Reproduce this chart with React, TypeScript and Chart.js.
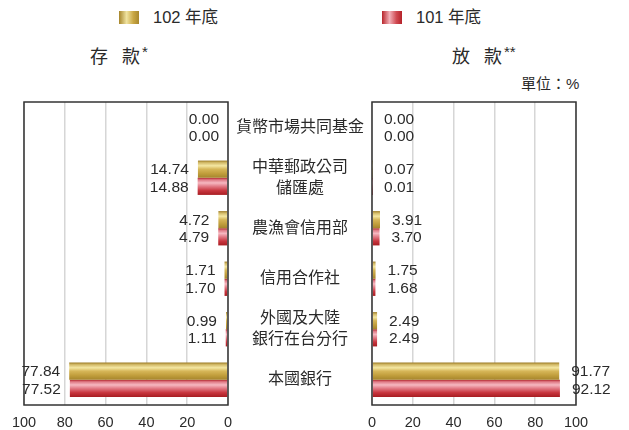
import React, { useEffect, useRef } from "react";
import { Chart, registerables } from "chart.js";

Chart.register(...registerables);

// Institutions shown in the middle column
const categories: (string | string[])[] = [
  "貨幣市場共同基金",
  ["中華郵政公司", "儲匯處"],
  "農漁會信用部",
  "信用合作社",
  ["外國及大陸", "銀行在台分行"],
  "本國銀行",
];

const yearLabels = ["102 年底", "101 年底"];

// Market shares of deposits (%)
const deposits102 = [0.0, 14.74, 4.72, 1.71, 0.99, 77.84];
const deposits101 = [0.0, 14.88, 4.79, 1.7, 1.11, 77.52];

// Market shares of loans (%)
const loans102 = [0.0, 0.07, 3.91, 1.75, 2.49, 91.77];
const loans101 = [0.0, 0.01, 3.7, 1.68, 2.49, 92.12];

const axisMin = 0;
const axisMax = 100;
const axisStep = 20;

const FONT = '"Liberation Sans", "Noto Sans CJK TC", Arial, sans-serif';
const TEXT = "#2a2a2a";

const GOLD_STOPS: [number, string][] = [
  [0, "#9c7b25"],
  [0.12, "#d3ba68"],
  [0.3, "#f4e7a2"],
  [0.5, "#d6b658"],
  [0.75, "#c19e3c"],
  [1, "#a5852c"],
];
const RED_STOPS: [number, string][] = [
  [0, "#b0232a"],
  [0.12, "#df7a86"],
  [0.3, "#f6b8c1"],
  [0.5, "#e27a86"],
  [0.75, "#c8363f"],
  [1, "#a81d22"],
];

// Shade each bar across its thickness
const gradientPlugin = {
  id: "barShade",
  beforeDatasetsDraw(chart: any) {
    const ctx = chart.ctx;
    chart.data.datasets.forEach((_ds: any, di: number) => {
      const stops = di === 0 ? GOLD_STOPS : RED_STOPS;
      const meta = chart.getDatasetMeta(di);
      meta.data.forEach((el: any) => {
        const { y, height } = el.getProps(["y", "height"], true);
        const g = ctx.createLinearGradient(0, y - height / 2, 0, y + height / 2);
        stops.forEach(([o, c]) => g.addColorStop(o, c));
        el.options = Object.assign({}, el.options, { backgroundColor: g });
      });
    });
  },
};

// Dark frame around the plotting area
const framePlugin = {
  id: "plotFrame",
  afterDatasetsDraw(chart: any) {
    const { ctx, chartArea } = chart;
    ctx.save();
    ctx.strokeStyle = "#333333";
    ctx.lineWidth = 1.5;
    ctx.strokeRect(
      chartArea.left,
      chartArea.top,
      chartArea.right - chartArea.left,
      chartArea.bottom - chartArea.top
    );
    ctx.restore();
  },
};

// Value labels at the end of each bar
const valuesPlugin = {
  id: "barValues",
  afterDatasetsDraw(chart: any, _args: any, opts: any) {
    const ctx = chart.ctx;
    ctx.save();
    ctx.font = `15.5px ${FONT}`;
    ctx.fillStyle = TEXT;
    ctx.textBaseline = "middle";
    chart.data.datasets.forEach((ds: any, di: number) => {
      const meta = chart.getDatasetMeta(di);
      meta.data.forEach((el: any, i: number) => {
        const v = Number(ds.data[i]);
        const { x, y } = el.getProps(["x", "y"], true);
        if (opts.side === "left") {
          ctx.textAlign = "right";
          ctx.fillText(v.toFixed(2), x - 9, y + 1);
        } else {
          ctx.textAlign = "left";
          ctx.fillText(v.toFixed(2), x + 12, y + 1);
        }
      });
    });
    ctx.restore();
  },
};

function makeConfig(side: "left" | "right", d102: number[], d101: number[]): any {
  const isLeft = side === "left";
  return {
    type: "bar",
    data: {
      labels: categories,
      datasets: [
        { label: yearLabels[0], data: d102, backgroundColor: "#c9a744", borderWidth: 0 },
        { label: yearLabels[1], data: d101, backgroundColor: "#c9353c", borderWidth: 0 },
      ],
    },
    options: {
      indexAxis: "y",
      responsive: false,
      animation: false,
      devicePixelRatio: 1,
      layout: {
        padding: isLeft
          ? { left: 24, right: 0, top: 7, bottom: 0 }
          : { left: 22, right: 53, top: 7, bottom: 0 },
      },
      datasets: { bar: { categoryPercentage: 0.68, barPercentage: 1 } },
      plugins: {
        legend: { display: false },
        tooltip: { enabled: false },
        barValues: { side },
      },
      scales: {
        x: {
          reverse: isLeft,
          min: axisMin,
          max: axisMax,
          ticks: {
            stepSize: axisStep,
            padding: 9,
            color: TEXT,
            font: { family: FONT, size: 14.5 },
          },
          grid: { drawTicks: false, color: "#d6d6d6", lineWidth: 1.5 },
          border: { display: false },
          afterFit: (s: any) => {
            s.height = 25;
          },
        },
        y: {
          position: isLeft ? "right" : "left",
          display: isLeft,
          ticks: {
            crossAlign: "center",
            padding: 8,
            color: TEXT,
            font: { family: FONT, size: 16, lineHeight: 1.3 },
          },
          grid: { display: false, drawTicks: false },
          border: { display: false },
          afterFit: (s: any) => {
            s.width = isLeft ? 144 : 0;
            s.paddingTop = 0;
            s.paddingBottom = 0;
          },
        },
      },
    },
    plugins: [gradientPlugin, framePlugin, valuesPlugin],
  };
}

function ShareChart(props: {
  side: "left" | "right";
  d102: number[];
  d101: number[];
  left: number;
  width: number;
}) {
  const ref = useRef<HTMLCanvasElement | null>(null);
  useEffect(() => {
    if (!ref.current) return;
    const chart = new Chart(ref.current, makeConfig(props.side, props.d102, props.d101));
    return () => chart.destroy();
  }, []);
  return (
    <canvas
      ref={ref}
      width={props.width}
      height={335}
      style={{
        position: "absolute",
        left: props.left,
        top: 95,
        width: props.width,
        height: 335,
      }}
    />
  );
}

const swatch = (bg: string, left: number) => (
  <div
    style={{
      position: "absolute",
      left,
      top: 11,
      width: 20,
      height: 13,
      background: bg,
    }}
  />
);

const textStyle = (left: number, top: number, size: number): React.CSSProperties => ({
  position: "absolute",
  left,
  top,
  fontSize: size,
  lineHeight: `${size + 4}px`,
  color: TEXT,
  whiteSpace: "nowrap",
});

const starStyle: React.CSSProperties = {
  fontSize: 15,
  verticalAlign: 6,
  marginLeft: 2,
};

export default function App() {
  return (
    <div
      style={{
        position: "fixed",
        left: 0,
        top: 0,
        width: 629,
        height: 430,
        background: "#ffffff",
        fontFamily: FONT,
        overflow: "hidden",
      }}
    >
      {swatch(
        "linear-gradient(to right, #a6852b 0%, #f0e3a0 38%, #c9a744 72%, #a8882e 100%)",
        119
      )}
      <div style={textStyle(153, 7, 16.5)}>{yearLabels[0]}</div>
      {swatch(
        "linear-gradient(to right, #b8252b 0%, #f2b0b8 38%, #d04a52 72%, #b52229 100%)",
        382
      )}
      <div style={textStyle(416, 7, 16.5)}>{yearLabels[1]}</div>

      <div style={{ ...textStyle(90, 41, 18), wordSpacing: 9 }}>
        存 款<span style={starStyle}>*</span>
      </div>
      <div style={{ ...textStyle(452, 41, 18), wordSpacing: 9 }}>
        放 款<span style={starStyle}>**</span>
      </div>
      <div style={textStyle(521, 74, 15)}>單位：%</div>

      <ShareChart side="left" d102={deposits102} d101={deposits101} left={0} width={372} />
      <ShareChart side="right" d102={loans102} d101={loans101} left={350} width={279} />
    </div>
  );
}
